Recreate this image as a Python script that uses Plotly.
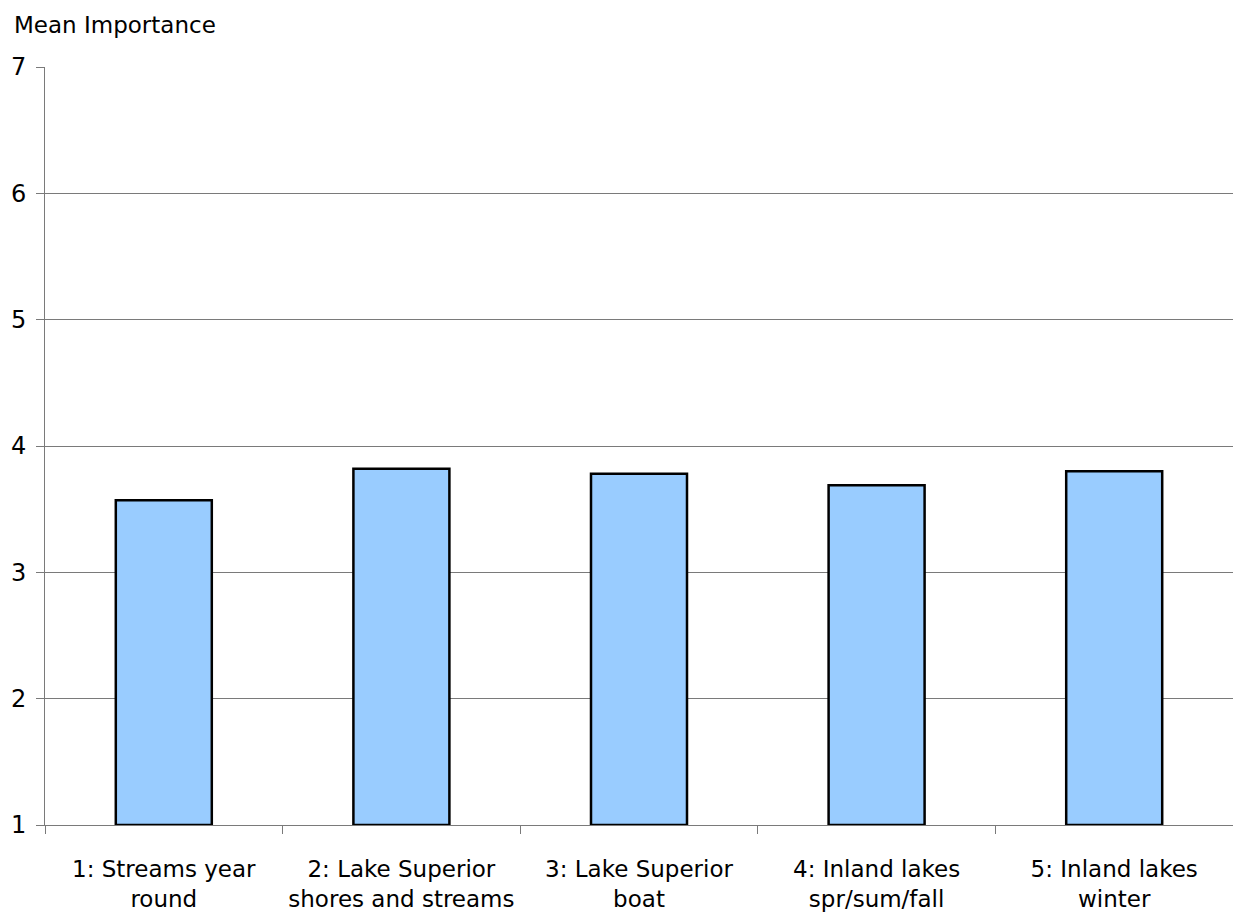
import plotly.graph_objects as go

categories = [
    "1: Streams year<br>round",
    "2: Lake Superior<br>shores and streams",
    "3: Lake Superior<br>boat",
    "4: Inland lakes<br>spr/sum/fall",
    "5: Inland lakes<br>winter",
]
mean_importance = [3.57, 3.82, 3.78, 3.69, 3.80]
y_ticks = [1, 2, 3, 4, 5, 6, 7]
baseline = 1

FONT = "Tahoma, DejaVu Sans, Verdana, sans-serif"

fig = go.Figure()
fig.add_trace(go.Bar(
    x=categories,
    y=[v - baseline for v in mean_importance],
    base=baseline,
    marker=dict(color="#99CCFF", line=dict(color="#000000", width=2.5)),
    hoverinfo="skip",
))

fig.update_layout(
    width=1233, height=914,
    margin=dict(l=45, r=0, t=67, b=89),
    paper_bgcolor="white", plot_bgcolor="white",
    bargap=0.596,
    showlegend=False,
    font=dict(family=FONT, size=23, color="#000000"),
    annotations=[dict(
        text="Mean Importance", xref="paper", yref="paper",
        x=0, y=1, xanchor="left", yanchor="middle",
        xshift=-33, yshift=42, showarrow=False,
        font=dict(family=FONT, size=23, color="#000000"),
    )],
)
fig.update_yaxes(
    range=[1, 7], tickvals=y_ticks,
    showgrid=True, gridcolor="#7a7a7a", gridwidth=1,
    showline=True, linecolor="#7a7a7a", linewidth=1,
    ticks="outside", ticklen=8, tickcolor="#7a7a7a",
    ticklabelstandoff=5,
    tickfont=dict(family=FONT, size=24),
    zeroline=False, fixedrange=True,
)
fig.update_xaxes(
    showline=True, linecolor="#7a7a7a", linewidth=1,
    ticks="outside", ticklen=8, tickcolor="#7a7a7a",
    tickson="boundaries",
    ticklabelstandoff=23,
    tickfont=dict(family=FONT, size=23),
    showgrid=False, fixedrange=True,
)

fig.write_html(
    "out.html",
    config={"displayModeBar": False},
    post_script="document.body.style.margin='0';document.body.style.overflow='hidden';",
)
